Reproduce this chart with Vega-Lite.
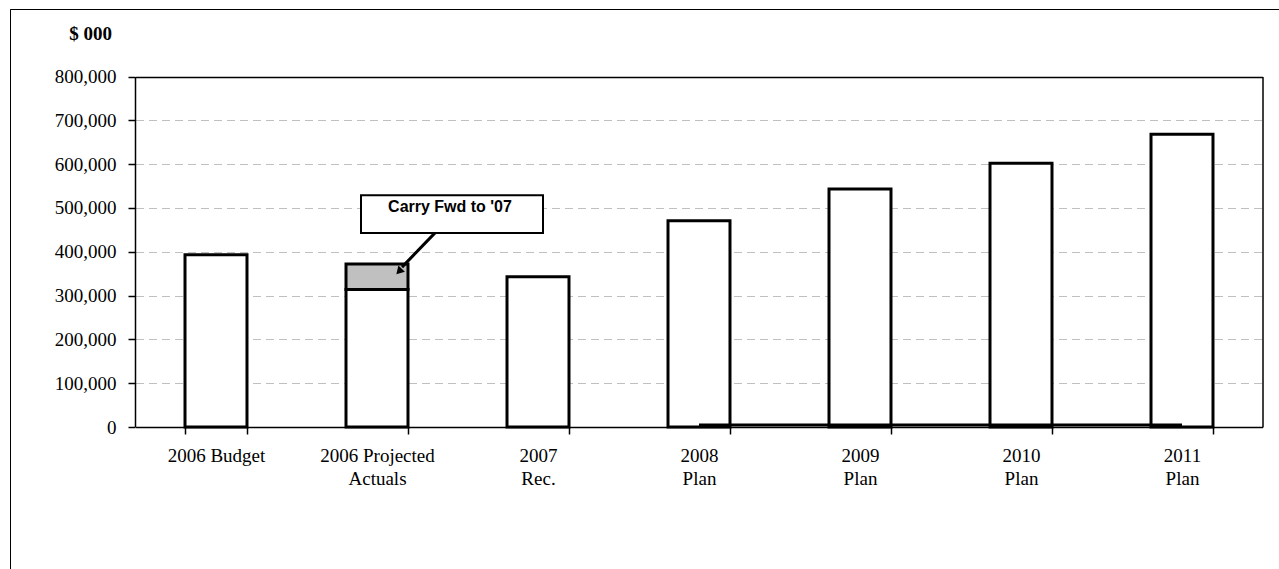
{
  "$schema": "https://vega.github.io/schema/vega-lite/v6.json",
  "width": 1269,
  "height": 560,
  "autosize": {"type": "none"},
  "padding": {"left": 10, "top": 9, "right": 0, "bottom": 0},
  "background": "white",
  "config": {
    "view": {"stroke": "black", "strokeWidth": 1, "strokeDash": [1269, 1829, 560]},
    "axis": {"labelColor": "black", "titleColor": "black", "domainColor": "black", "tickColor": "black"}
  },
  "resolve": {"axis": {"x": "independent", "y": "independent"}},
  "layer": [
    {
      "data": {
        "values": [
          {"cat": "2006 Budget", "part": "base", "value": 393000},
          {"cat": "2006 Projected Actuals", "part": "base", "value": 314000},
          {"cat": "2006 Projected Actuals", "part": "carry", "value": 58000},
          {"cat": "2007 Rec.", "part": "base", "value": 343000},
          {"cat": "2008 Plan", "part": "base", "value": 471000},
          {"cat": "2009 Plan", "part": "base", "value": 543000},
          {"cat": "2010 Plan", "part": "base", "value": 602000},
          {"cat": "2011 Plan", "part": "base", "value": 668000}
        ]
      },
      "mark": {"type": "bar", "stroke": "black", "strokeWidth": 3, "strokeJoin": "miter"},
      "encoding": {
        "x": {
          "field": "cat", "type": "nominal", "sort": null,
          "scale": {
            "type": "band",
            "domain": ["2006 Budget", "2006 Projected Actuals", "2007 Rec.", "2008 Plan", "2009 Plan", "2010 Plan", "2011 Plan"],
            "range": [125.5, 1252.5],
            "paddingInner": 0.615,
            "paddingOuter": 0.3075
          },
          "axis": {
            "orient": "bottom", "offset": -142, "title": null, "labelAngle": 0,
            "tickBand": "extent", "grid": false,
            "labelExpr": "datum.label == '2006 Projected Actuals' ? ['2006 Projected', 'Actuals'] : (datum.label == '2006 Budget' ? datum.label : split(datum.label, ' '))",
            "labelFont": "Liberation Serif", "labelFontSize": 19, "labelLineHeight": 23,
            "labelPadding": 12, "labelBaseline": "top",
            "tickSize": 7, "tickWidth": 1.5, "domainWidth": 1.5
          }
        },
        "y": {
          "field": "value", "type": "quantitative", "stack": "zero",
          "scale": {"domain": [0, 800000], "range": [418, 67.5], "nice": false},
          "axis": {
            "orient": "left", "offset": -125,
            "values": [0, 100000, 200000, 300000, 400000, 500000, 600000, 700000, 800000],
            "format": ",d",
            "title": "$ 000", "titleAngle": 0, "titleX": -45, "titleY": 24,
            "titleFont": "Liberation Serif", "titleFontSize": 19, "titleFontWeight": "bold",
            "titleAlign": "center", "titleBaseline": "middle",
            "labelFont": "Liberation Serif", "labelFontSize": 19, "labelPadding": 12,
            "tickSize": 7, "tickWidth": 1.5, "domainWidth": 1.5,
            "grid": true, "gridColor": "#c0c0c0", "gridDash": [8, 5], "gridWidth": 1
          }
        },
        "color": {
          "field": "part", "type": "nominal",
          "scale": {"domain": ["base", "carry"], "range": ["white", "#c0c0c0"]},
          "legend": null
        },
        "order": {"field": "part", "sort": "ascending"}
      }
    },
    {
      "data": {
        "values": [
          {"cat": "2008 Plan", "v": 4500},
          {"cat": "2009 Plan", "v": 4500},
          {"cat": "2010 Plan", "v": 4500},
          {"cat": "2011 Plan", "v": 4500}
        ]
      },
      "mark": {"type": "line", "color": "black", "strokeWidth": 3},
      "encoding": {
        "x": {
          "field": "cat", "type": "nominal", "sort": null,
          "scale": {"domain": ["2006 Budget", "2006 Projected Actuals", "2007 Rec.", "2008 Plan", "2009 Plan", "2010 Plan", "2011 Plan"]},
          "axis": {"orient": "top", "offset": -68, "title": null, "labels": false, "ticks": false, "grid": false, "domain": true, "domainWidth": 1.5}
        },
        "y": {
          "field": "v", "type": "quantitative",
          "axis": {"orient": "right", "offset": -16.5, "title": null, "labels": false, "ticks": false, "grid": false, "domain": true, "domainWidth": 1.5}
        }
      }
    },
    {
      "data": {"values": [{"note": "box"}]},
      "mark": {"type": "bar", "fill": "white", "stroke": "black", "strokeWidth": 2, "width": 182, "xOffset": 75},
      "encoding": {
        "x": {"datum": "2006 Projected Actuals", "type": "nominal", "axis": null},
        "y": {"datum": 529000, "type": "quantitative", "axis": null},
        "y2": {"datum": 443000}
      }
    },
    {
      "data": {"values": [{"note": "Carry Fwd to '07"}]},
      "mark": {"type": "text", "font": "Liberation Sans", "fontSize": 16, "fontWeight": "bold", "color": "black", "align": "center", "baseline": "middle", "xOffset": 73},
      "encoding": {
        "x": {"datum": "2006 Projected Actuals", "type": "nominal", "axis": null},
        "y": {"datum": 502000, "type": "quantitative", "axis": null},
        "text": {"field": "note", "type": "nominal"}
      }
    },
    {
      "data": {"values": [{"note": "arrow"}]},
      "mark": {"type": "rule", "color": "black", "strokeWidth": 3, "xOffset": 58, "x2Offset": 25},
      "encoding": {
        "x": {"datum": "2006 Projected Actuals", "type": "nominal", "axis": null},
        "x2": {"datum": "2006 Projected Actuals"},
        "y": {"datum": 443000, "type": "quantitative", "axis": null},
        "y2": {"datum": 365000}
      }
    },
    {
      "data": {"values": [{"note": "arrowhead"}]},
      "mark": {"type": "point", "shape": "triangle-up", "filled": true, "color": "black", "opacity": 1, "size": 80, "angle": 223, "xOffset": 22},
      "encoding": {
        "x": {"datum": "2006 Projected Actuals", "type": "nominal", "axis": null},
        "y": {"datum": 355000, "type": "quantitative", "axis": null}
      }
    }
  ]
}
